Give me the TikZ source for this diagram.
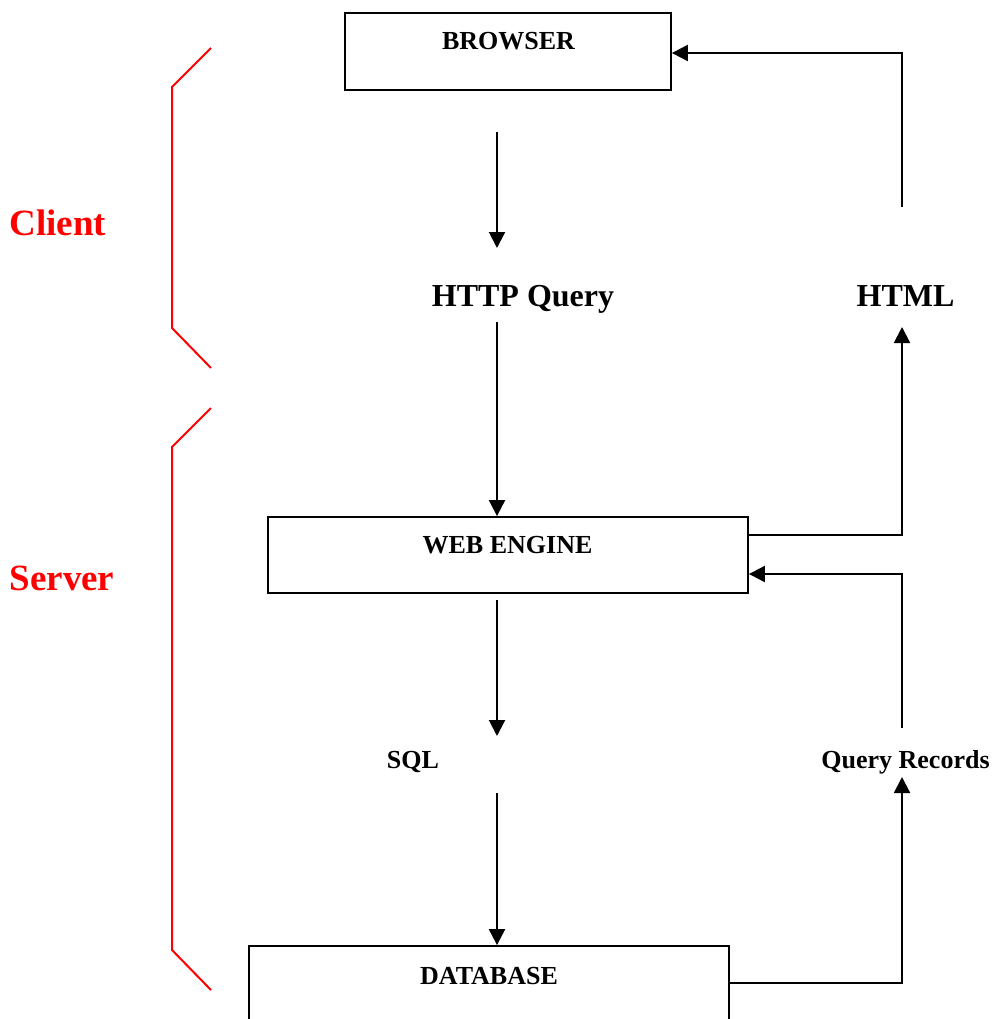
\documentclass[tikz,border=0pt]{standalone}
\usepackage{fontspec}
\setmainfont{Liberation Serif}
\usetikzlibrary{arrows.meta}
\begin{document}
\begin{tikzpicture}[x=1pt,y=-1pt,
  box/.style={draw, line width=1.8pt, inner sep=0pt},
  boxtext/.style={anchor=base, inner sep=0pt, font=\fontsize{26}{30}\selectfont\bfseries},
  bigtext/.style={anchor=base, inner sep=0pt, font=\fontsize{32}{36}\selectfont\bfseries},
  side/.style={anchor=base, inner sep=0pt, text=red, font=\fontsize{37}{42}\selectfont\bfseries},
  flow/.style={line width=2pt, -{Triangle[length=16pt,width=16pt]}},
  brace/.style={draw=red, line width=2pt, line join=miter}]
\useasboundingbox (0,0) rectangle (994,1019);

% boxes
\node[box, minimum width=326pt, minimum height=77pt] (browser) at (508,51.5) {};
\node[boxtext] (browsertxt) at (508.5,49.5) {BROWSER};
\node[box, minimum width=480pt, minimum height=76pt] (engine) at (508,555) {};
\node[boxtext] (enginetxt) at (507.5,553.5) {WEB ENGINE};
\node[box, minimum width=480pt, minimum height=90pt] (db) at (489,991) {};
\node[boxtext] (dbtxt) at (489,984.5) {DATABASE};

% labels between the boxes
\node[bigtext] (http) at (523,306) {HTTP Query};
\node[bigtext] (html) at (905.5,306) {HTML};
\node[boxtext] (sql) at (413,768) {SQL};
\node[boxtext] (records) at (905.5,768) {Query Records};

% tier labels
\node[side] (client) at (58,235) {Client};
\node[side] (server) at (62,590) {Server};

% connector end points
\coordinate (b0) at (497,132);
\coordinate (b1) at (497,248);
\coordinate (h0) at (497,322);
\coordinate (e0) at (497,600);
\coordinate (e1) at (497,736);
\coordinate (s0) at (497,793);
\coordinate (r0) at (902,728);
\coordinate (r1) at (902,777);
\coordinate (m0) at (902,207);
\coordinate (m1) at (902,327);

% request path
\draw[flow] (b0) -- (b1);
\draw[flow] (h0) -- (engine.north -| h0);
\draw[flow] (e0) -- (e1);
\draw[flow] (s0) -- (db.north -| s0);

% response path
\draw[flow] ([yshift=8pt]db.east) -| (r1);
\draw[flow] (r0) |- ([yshift=-19pt]engine.east);
\draw[flow] ([yshift=20pt]engine.east) -| (m1);
\draw[flow] (m0) |- ([yshift=-1.5pt]browser.east);

% tier brackets
\draw[brace] (211,48) -- (172,87) -- (172,328) -- (211,368);
\draw[brace] (211,408) -- (172,447) -- (172,950) -- (211,990);
\end{tikzpicture}
\end{document}
